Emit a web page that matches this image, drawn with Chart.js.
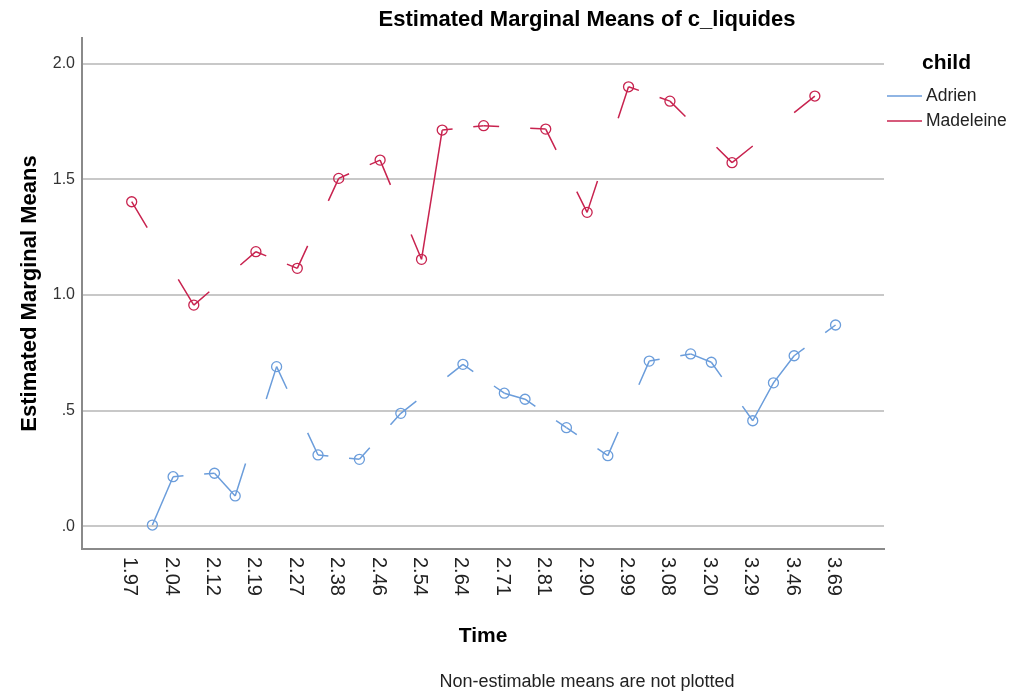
<!DOCTYPE html>
<html><head><meta charset="utf-8">
<script src="https://cdn.jsdelivr.net/npm/chart.js@4.4.1/dist/chart.umd.min.js"></script>
<style>html,body{margin:0;padding:0;background:#fff;} #wrap{width:1011px;height:693px;position:relative;}</style>
</head><body><div id="wrap"><canvas id="c" width="1011" height="693"></canvas></div>
<script>
// ---- data (index = category position on the Time axis; alternate labels are hidden in the source) ----
const categories = [
  '1.97', null, '2.04', null, '2.12', null, '2.19', null, '2.27', null,
  '2.38', null, '2.46', null, '2.54', null, '2.64', null, '2.71', null,
  '2.81', null, '2.90', null, '2.99', null, '3.08', null, '3.20', null,
  '3.29', null, '3.46', null, '3.69'
];
const adrien = [
  null, 0.005, 0.214, null, 0.229, 0.131, null, 0.690, null, 0.308,
  null, 0.289, null, 0.488, null, null, 0.700, null, 0.575, 0.549,
  null, 0.426, null, 0.305, null, 0.714, null, 0.745, 0.709, null,
  0.456, 0.620, 0.737, null, 0.870
];
const madeleine = [
  1.403, null, null, 0.956, null, null, 1.187, null, 1.115, null,
  1.504, null, 1.583, null, 1.154, 1.713, null, 1.732, null, null,
  1.717, null, 1.357, null, 1.900, null, 1.838, null, null, 1.572,
  null, null, null, 1.860, null
];
const seriesNames = ['Adrien', 'Madeleine'];
const yTickValues = [0, 0.5, 1, 1.5, 2];
const yTickLabels = ['.0', '.5', '1.0', '1.5', '2.0'];
const legendTitle = 'child';
const chartTitle = 'Estimated Marginal Means of c_liquides';
const xTitle = 'Time';
const yTitle = 'Estimated Marginal Means';
const footnote = 'Non-estimable means are not plotted';

// ---- styles ----
const COLORS = ['#6b9ddb', '#c8234f'];
const FONT = '"Liberation Sans", Arial, sans-serif';

function toPoints(vals){ const out=[]; vals.forEach((v,i)=>{ if(v!==null) out.push({x:i,y:v}); }); return out; }

// lines across non-estimable categories only show the first and last quarter
function stubDash(ctx){
  const ds = ctx.chart.data.datasets[ctx.datasetIndex].data;
  const a = ds[ctx.p0DataIndex], b = ds[ctx.p1DataIndex];
  if (!a || !b || b.x - a.x <= 1) return [];
  const L = Math.hypot(ctx.p1.x - ctx.p0.x, ctx.p1.y - ctx.p0.y);
  const s = L / 4;
  return [s, L - 2*s, s, 5000 + ctx.p0DataIndex * 0.001 + ctx.datasetIndex*0.0001];
}

const decor = {
  id: 'decor',
  afterDraw(chart){
    const c = chart.ctx, xs = chart.scales.x, ys = chart.scales.y, ca = chart.chartArea;
    c.save();
    // y tick labels
    c.fillStyle = '#333'; c.font = '16px ' + FONT; c.textAlign = 'right'; c.textBaseline = 'middle';
    yTickValues.forEach((v,i) => c.fillText(yTickLabels[i], ca.left - 7, ys.getPixelForValue(v)));
    // x tick labels, rotated clockwise
    c.fillStyle = '#222'; c.font = '20px ' + FONT;
    categories.forEach((lab,i) => {
      if (lab === null) return;
      c.save();
      c.translate(xs.getPixelForValue(i) - 2, ca.bottom + 8);
      c.rotate(Math.PI/2);
      c.textAlign = 'left'; c.textBaseline = 'middle';
      c.fillText(lab, 0, 0);
      c.restore();
    });
    // titles
    c.fillStyle = '#000';
    c.font = 'bold 22px ' + FONT; c.textAlign = 'center'; c.textBaseline = 'middle';
    c.fillText(chartTitle, 587, 20);
    c.font = 'bold 21px ' + FONT;
    c.fillText(xTitle, (ca.left + ca.right)/2, 636);
    c.save();
    c.translate(30, (ca.top + ca.bottom)/2);
    c.rotate(-Math.PI/2);
    c.font = 'bold 22px ' + FONT;
    c.fillText(yTitle, 0, 0);
    c.restore();
    c.font = '18px ' + FONT; c.fillStyle = '#222';
    c.fillText(footnote, 587, 682);
    // legend
    c.fillStyle = '#000'; c.font = 'bold 21px ' + FONT; c.textAlign = 'left';
    c.fillText(legendTitle, 922, 63);
    c.font = '17.5px ' + FONT; c.fillStyle = '#222';
    seriesNames.forEach((n,i) => {
      const y = 96 + i*25;
      c.strokeStyle = COLORS[i]; c.lineWidth = 1.5;
      c.beginPath(); c.moveTo(887, y); c.lineTo(922, y); c.stroke();
      c.fillText(n, 926, y);
    });
    c.restore();
  }
};

const mkDataset = (vals, i) => ({
  label: seriesNames[i],
  data: toPoints(vals),
  borderColor: COLORS[i],
  backgroundColor: 'rgba(0,0,0,0)',
  borderWidth: 1.5,
  pointRadius: 5,
  pointBorderWidth: 1.3,
  pointBorderColor: COLORS[i],
  pointBackgroundColor: 'rgba(0,0,0,0)',
  tension: 0,
  segment: { borderDash: stubDash }
});

new Chart(document.getElementById('c'), {
  type: 'line',
  data: { datasets: [mkDataset(adrien, 0), mkDataset(madeleine, 1)] },
  options: {
    responsive: false,
    animation: false,
    events: [],
    layout: { padding: { left: 82, right: 127, top: 38, bottom: 144 } },
    plugins: { legend: { display: false }, tooltip: { enabled: false }, title: { display: false } },
    scales: {
      x: {
        type: 'linear', min: -2.4, max: 36.34,
        ticks: { display: false },
        grid: { display: false, drawTicks: false },
        border: { display: true, color: '#8a8a8a', width: 2 }
      },
      y: {
        type: 'linear', min: -0.0986, max: 2.111,
        afterBuildTicks: s => { s.ticks = yTickValues.map(v => ({ value: v })); },
        ticks: { display: false },
        grid: { display: true, drawTicks: false, color: '#c8c8c8', lineWidth: 2 },
        border: { display: true, color: '#8a8a8a', width: 2 }
      }
    }
  },
  plugins: [decor]
});
</script>
</body></html>
